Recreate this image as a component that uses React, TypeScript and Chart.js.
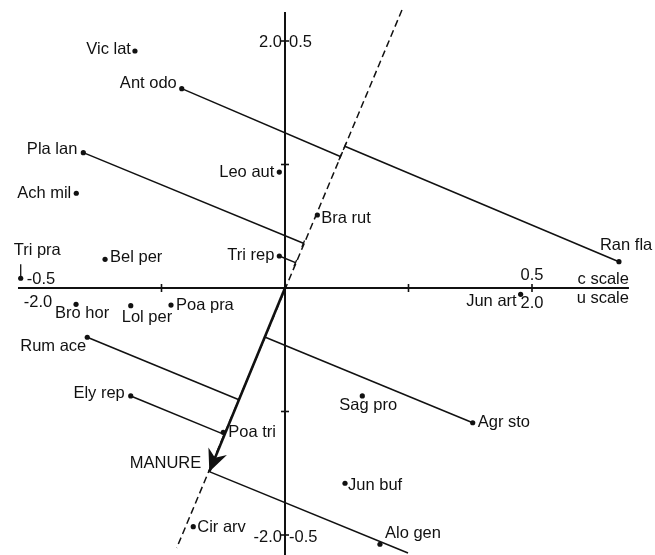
import React, { useEffect, useRef } from "react";
import { Chart, registerables } from "chart.js";

Chart.register(...registerables);

// ---- data (u scale, species scores) ----
const speciesNames = [
  "Vic lat", "Ant odo", "Pla lan", "Leo aut", "Ach mil", "Bra rut", "Tri rep",
  "Bel per", "Tri pra", "Ran fla", "Jun art", "Bro hor", "Lol per", "Poa pra",
  "Rum ace", "Ely rep", "Poa tri", "Sag pro", "Agr sto", "Jun buf", "Alo gen", "Cir arv",
];
const speciesU = [
  -1.215, -0.836, -1.633, -0.046, -1.69, 0.262, -0.046,
  -1.457, -2.14, 2.704, 1.908, -1.692, -1.249, -0.923,
  -1.601, -1.249, -0.5, 0.626, 1.52, 0.486, 0.769, -0.743,
];
const speciesV = [
  1.919, 1.614, 1.096, 0.939, 0.767, 0.591, 0.259,
  0.232, 0.079, 0.213, -0.051, -0.132, -0.143, -0.138,
  -0.399, -0.874, -1.168, -0.874, -1.091, -1.581, -2.075, -1.933,
];

// environmental arrow (MANURE) and its dashed axis
const manureName = "MANURE";
const manureTip = [-0.613, -1.487];
const envAxisTop = [0.947, 2.251];
const envAxisBottom = [-0.877, -2.105];

// perpendicular projection lines: start (foot on the arrow axis) -> end
const projStartU = [0.448, 0.484, 0.149, 0.085, -0.373, -0.489, -0.164, -0.613];
const projStartV = [1.065, 1.148, 0.362, 0.205, -0.905, -1.187, -0.397, -1.487];
const projEndU = [-0.836, 2.704, -1.633, -0.046, -1.601, -1.249, 1.52, 0.996];
const projEndV = [1.614, 0.213, 1.096, 0.259, -0.399, -0.874, -1.091, -2.146];
const projMarked = [true, true, true, true, false, false, false, false];

// axes and ticks
const axisXRange = [-2.162, 2.785];
const axisYRange = [2.235, -2.2];
const xTickValues = [-1, 1, 2];
const yTickValues = [2, 1, -1, -2];

// label layout (pixel offsets from point, alignment)
const labelDx = [-4, -5, -6, -5, -5, 4, -5, 5, -7, -19, -4, -21, -9, 5, -1, -6, 5, -23, 5, 3, 5, 4];
const labelDy = [-2, -5, -3, 0, 0, 3, -1, -2, -28, -16, 7, 9, 12, 0, 9, -2, 0, 10, 0, 2, -11, 1];
const labelAlign: CanvasTextAlign[] = [
  "right", "right", "right", "right", "right", "left", "right", "left", "left", "left",
  "right", "left", "left", "left", "right", "right", "left", "left", "left", "left", "left", "left",
];

const FONT = "16.5px 'Liberation Sans', Arial, Helvetica, sans-serif";
const INK = "#111";

const overlayPlugin = {
  id: "overlay",
  afterDatasetsDraw(chart: any) {
    const { ctx, scales } = chart;
    const xs = scales.x;
    const ys = scales.y;
    const px = (u: number) => xs.getPixelForValue(u);
    const py = (v: number) => ys.getPixelForValue(v);
    const x0 = px(0);
    const y0 = py(0);
    ctx.save();
    ctx.strokeStyle = INK;
    ctx.fillStyle = INK;
    // axis ticks
    ctx.lineWidth = 1.6;
    for (const t of xTickValues) {
      ctx.beginPath();
      ctx.moveTo(px(t), y0 - 4);
      ctx.lineTo(px(t), y0 + 4);
      ctx.stroke();
    }
    for (const t of yTickValues) {
      ctx.beginPath();
      ctx.moveTo(x0 - 4, py(t));
      ctx.lineTo(x0 + 4, py(t));
      ctx.stroke();
    }
    // right-angle marks at projection feet
    const ax = px(envAxisTop[0]) - px(envAxisBottom[0]);
    const ay = py(envAxisTop[1]) - py(envAxisBottom[1]);
    const al = Math.hypot(ax, ay);
    const dx = ax / al;
    const dy = ay / al;
    ctx.lineWidth = 1.3;
    projStartU.forEach((u, i) => {
      if (!projMarked[i]) return;
      const fx = px(u);
      const fy = py(projStartV[i]);
      ctx.beginPath();
      ctx.moveTo(fx + dx * 3, fy + dy * 3);
      ctx.lineTo(fx - dx * 4, fy - dy * 4);
      ctx.stroke();
    });
    // arrow head
    const tx = px(manureTip[0]);
    const ty = py(manureTip[1]);
    const vx = tx - x0;
    const vy = ty - y0;
    const vl = Math.hypot(vx, vy);
    const ux = vx / vl;
    const uy = vy / vl;
    const bx = tx - ux * 22;
    const by = ty - uy * 22;
    ctx.beginPath();
    ctx.moveTo(tx, ty);
    ctx.lineTo(bx - uy * 10, by + ux * 10);
    ctx.lineTo(tx - ux * 15, ty - uy * 15);
    ctx.lineTo(bx + uy * 10, by - ux * 10);
    ctx.closePath();
    ctx.fill();
    // Tri pra leader
    const tpi = speciesNames.indexOf("Tri pra");
    ctx.lineWidth = 1.3;
    ctx.beginPath();
    ctx.moveTo(px(speciesU[tpi]), py(speciesV[tpi]) - 14);
    ctx.lineTo(px(speciesU[tpi]), py(speciesV[tpi]));
    ctx.stroke();
    // labels
    ctx.font = FONT;
    ctx.textBaseline = "middle";
    speciesNames.forEach((n, i) => {
      ctx.textAlign = labelAlign[i];
      ctx.fillText(n, px(speciesU[i]) + labelDx[i], py(speciesV[i]) + labelDy[i]);
    });
    ctx.textAlign = "right";
    ctx.fillText(manureName, tx - 8, ty - 8);
    // scale labels
    ctx.textAlign = "right";
    ctx.fillText("2.0", x0 - 3, py(2) + 1);
    ctx.fillText("-2.0", x0 - 3, py(-2) + 2);
    ctx.textAlign = "left";
    ctx.fillText("0.5", x0 + 4, py(2) + 1);
    ctx.fillText("-0.5", x0 + 4, py(-2) + 2);
    ctx.textAlign = "center";
    ctx.fillText("0.5", px(2), y0 - 13);
    ctx.fillText("2.0", px(2), y0 + 15);
    ctx.fillText("-0.5", px(-2) + 3, y0 - 9);
    ctx.fillText("-2.0", px(-2), y0 + 14);
    ctx.textAlign = "right";
    ctx.fillText("c scale", px(axisXRange[1]), y0 - 9);
    ctx.fillText("u scale", px(axisXRange[1]), y0 + 10);
    ctx.restore();
  },
};

const line = (pts: { x: number; y: number }[], width: number, dash: number[] = []) => ({
  type: "line" as const,
  data: pts,
  showLine: true,
  borderColor: INK,
  borderWidth: width,
  borderDash: dash,
  pointRadius: 0,
  fill: false,
  tension: 0,
  clip: false as const,
});

export default function App() {
  const ref = useRef<HTMLCanvasElement>(null);
  useEffect(() => {
    if (!ref.current) return;
    const datasets: any[] = [];
    datasets.push(line([{ x: axisXRange[0], y: 0 }, { x: axisXRange[1], y: 0 }], 2));
    datasets.push(line([{ x: 0, y: axisYRange[0] }, { x: 0, y: axisYRange[1] }], 2));
    datasets.push(
      line(
        [
          { x: envAxisTop[0], y: envAxisTop[1] },
          { x: envAxisBottom[0], y: envAxisBottom[1] },
        ],
        1.5,
        [7, 4]
      )
    );
    projStartU.forEach((u, i) => {
      datasets.push(
        line(
          [
            { x: u, y: projStartV[i] },
            { x: projEndU[i], y: projEndV[i] },
          ],
          1.5
        )
      );
    });
    datasets.push(line([{ x: 0, y: 0 }, { x: manureTip[0], y: manureTip[1] }], 2.6));
    datasets.push({
      type: "scatter",
      data: speciesNames.map((_, i) => ({ x: speciesU[i], y: speciesV[i] })),
      pointRadius: 2.6,
      pointBackgroundColor: INK,
      pointBorderWidth: 0,
      clip: false,
    });
    const chart = new Chart(ref.current, {
      type: "scatter",
      data: { datasets },
      options: {
        animation: false,
        responsive: false,
        devicePixelRatio: 1,
        events: [],
        layout: { padding: 0, autoPadding: false },
        plugins: { legend: { display: false }, tooltip: { enabled: false } },
        scales: {
          x: { type: "linear", display: false, min: -2.3077, max: 2.996 },
          y: { type: "linear", display: false, min: -2.162, max: 2.332 },
        },
      },
      plugins: [overlayPlugin],
    });
    return () => chart.destroy();
  }, []);
  return (
    <div style={{ position: "fixed", left: 0, top: 0, width: 655, height: 555, background: "#fff" }}>
      <canvas ref={ref} width={655} height={555} style={{ display: "block" }} />
    </div>
  );
}
